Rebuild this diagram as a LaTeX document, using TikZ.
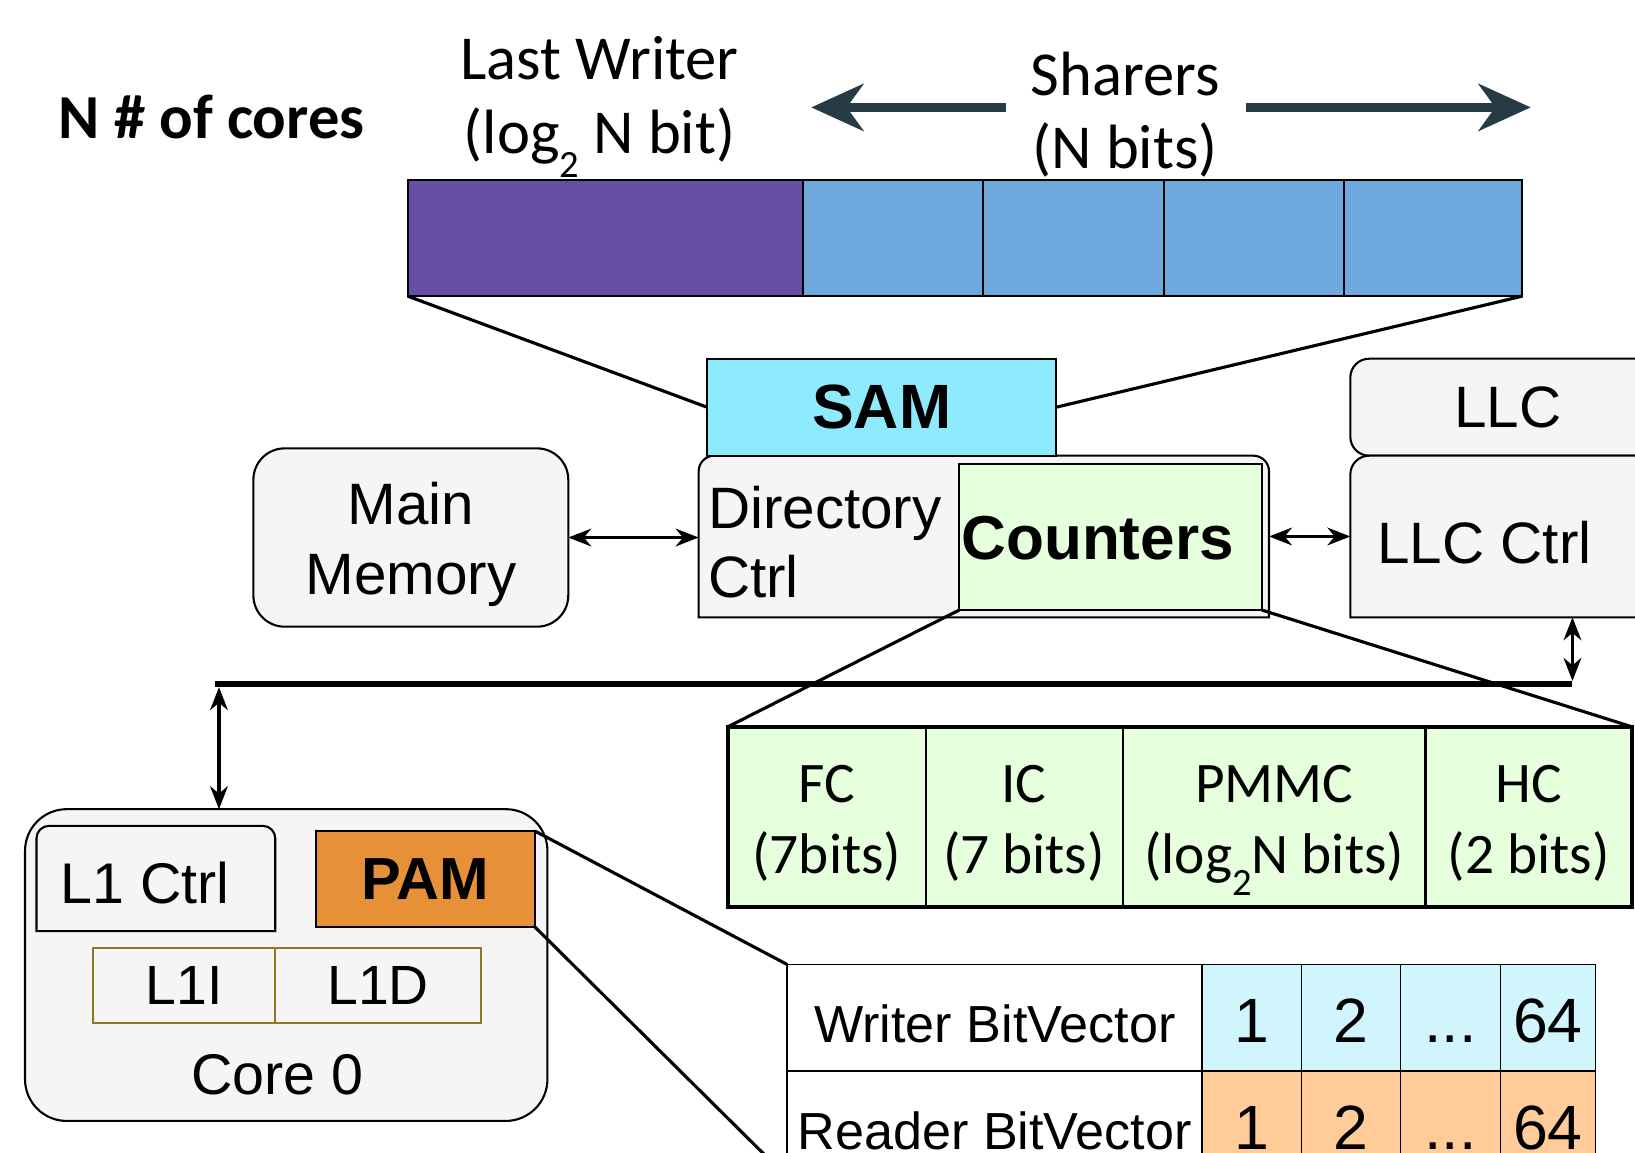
\documentclass[tikz,border=0pt]{standalone}
\usepackage{fontspec}
\setmainfont{Liberation Sans}
\newfontfamily\calfont{Carlito}
\usetikzlibrary{arrows.meta}

\newcommand\fsz[1]{\fontsize{#1}{#1}\selectfont}
\newcommand\subtwo[1]{\raisebox{-#1}{\fsz{37}2}}

\definecolor{lwpurple}{HTML}{674EA7}
\definecolor{shblue}{HTML}{6FA8DC}
\definecolor{samcyan}{HTML}{8DEBFD}
\definecolor{boxgray}{HTML}{F5F5F5}
\definecolor{ctrgreen}{HTML}{E6FFDC}
\definecolor{pamorange}{HTML}{E69138}
\definecolor{wcyan}{HTML}{D0F5FD}
\definecolor{rpeach}{HTML}{FFCC99}
\definecolor{l1olive}{HTML}{947520}
\definecolor{arrowslate}{HTML}{263B46}

\begin{document}
\begin{tikzpicture}[x=1pt,y=-1pt,
  every node/.style={inner sep=0pt, outer sep=0pt},
  cell/.style={draw, line width=2pt, anchor=north west},
  graybox/.style={draw, line width=2pt, fill=boxgray},
  ctcell/.style={draw, line width=2.5pt, fill=ctrgreen, minimum height=173pt, anchor=north west},
  bvcell/.style={draw, line width=1.6pt, anchor=north west, minimum height=102pt, text height=48pt, text depth=0pt},
  caltxt/.style={font=\calfont\fsz{60}, anchor=base},
  cttxt/.style={font=\calfont\fsz{55}, anchor=base},
  link/.style={line width=3pt},
  conn/.style={line width=3pt, {Stealth[length=22pt,width=17pt,inset=7pt]}-{Stealth[length=22pt,width=17pt,inset=7pt]}},
  bigarrow/.style={line width=8.5pt, draw=arrowslate, -{Stealth[length=50pt,width=45pt,inset=16pt]}}
]
\useasboundingbox (0,0) rectangle (1568,1105);
\clip (0,0) rectangle (1568,1105);

% ---------- directory entry layout ----------
\node[font=\calfont\bfseries\fsz{60}, anchor=base] (ncores) at (203,133) {N \# of cores};
\node[caltxt] (lwA) at (575,76) {Last Writer};
\node[caltxt] (lwB) at (575,147) {(log\subtwo{23pt} N bit)};
\node[caltxt] (shA) at (1079,92) {Sharers};
\node[caltxt] (shB) at (1079,162) {(N bits)};

\coordinate (shLs) at (965,103);
\coordinate (shLt) at (778,103);
\coordinate (shRs) at (1195,103);
\coordinate (shRt) at (1468,103);
\draw[bigarrow] (shLs) -- (shLt);
\draw[bigarrow] (shRs) -- (shRt);

\node[cell, fill=lwpurple, minimum width=379pt, minimum height=111pt] (lw) at (391,173) {};
\node[cell, fill=shblue, minimum width=173pt, minimum height=111pt] (s1) at (770,173) {};
\node[cell, fill=shblue, minimum width=173pt, minimum height=111pt] (s2) at (943,173) {};
\node[cell, fill=shblue, minimum width=173pt, minimum height=111pt] (s3) at (1116,173) {};
\node[cell, fill=shblue, minimum width=171pt, minimum height=111pt] (s4) at (1289,173) {};

% ---------- main memory ----------
\node[graybox, rounded corners=30pt, minimum width=302pt, minimum height=171pt, anchor=north west] (mem) at (243,430) {};
\node[font=\fsz{56}, anchor=base] (memA) at (394,503) {Main};
\node[font=\fsz{56}, anchor=base] (memB) at (394,570) {Memory};

% ---------- directory controller ----------
\node[minimum width=547pt, minimum height=155pt, anchor=north west] (dir) at (670,437) {};
\filldraw[graybox] (dir.south west) -- ([yshift=-15pt]dir.north west)
  arc[start angle=180, end angle=90, radius=15pt] -- ([xshift=-15pt]dir.north east)
  arc[start angle=90, end angle=0, radius=15pt] -- (dir.south east) -- cycle;
\node[font=\fsz{56}, anchor=base west] (dirA) at (679,507) {Directory};
\node[font=\fsz{56}, anchor=base west] (dirB) at (679,573) {Ctrl};
\node[cell, fill=ctrgreen, minimum width=290pt, minimum height=140pt] (cnt) at (920,445) {};
\node[font=\bfseries\fsz{59.5}, anchor=base west] (cntA) at (922,537) {Counters};

\node[cell, fill=samcyan, minimum width=335pt, minimum height=93pt, font=\bfseries\fsz{60}] (sam) at (678,344) {SAM};

% ---------- last level cache ----------
\node[graybox, rounded corners=18pt, minimum width=302pt, minimum height=93pt, anchor=north west, font=\fsz{56}] (llc) at (1295,344) {LLC};
\node[minimum width=302pt, minimum height=155pt, anchor=north west] (llcc) at (1295,437) {};
\filldraw[graybox] (llcc.south west) -- ([yshift=-18pt]llcc.north west)
  arc[start angle=180, end angle=90, radius=18pt] -- ([xshift=-18pt]llcc.north east)
  arc[start angle=90, end angle=0, radius=18pt] -- (llcc.south east) -- cycle;
\node[font=\fsz{56}, anchor=base west] (llccA) at (1321,540) {LLC Ctrl};

% ---------- entry expansion lines ----------
\draw[link] (lw.south west) -- (sam.west);
\draw[link] (s4.south east) -- (sam.east);

% ---------- counters table ----------
\node[ctcell, minimum width=190pt] (fc) at (698,697) {};
\node[ctcell, minimum width=189pt] (ic) at (888,697) {};
\node[ctcell, minimum width=290pt] (pmmc) at (1077,697) {};
\node[ctcell, minimum width=198pt] (hc) at (1367,697) {};
\draw[line width=3.5pt] (fc.north west) rectangle (hc.south east);
\node[cttxt] (fcA) at (793,770) {FC};
\node[cttxt] (fcB) at (793,838) {(7bits)};
\node[cttxt] (icA) at (982,770) {IC};
\node[cttxt] (icB) at (982,838) {(7 bits)};
\node[cttxt] (pmA) at (1222,770) {PMMC};
\node[cttxt] (pmB) at (1222,838) {(log\subtwo{21pt}N bits)};
\node[cttxt] (hcA) at (1466,770) {HC};
\node[cttxt] (hcB) at (1466,838) {(2 bits)};

\draw[link] (cnt.south west) -- (fc.north west);
\draw[link] (cnt.south east) -- (hc.north east);

% ---------- interconnect ----------
\coordinate (busL) at (206,656);
\coordinate (busR) at (1508,656);
\coordinate (busTap) at (210,656);
\draw[line width=6pt] (busL) -- (busR);
\draw[conn] (mem.east) -- (mem.east -| dir.west);
\draw[conn] (dir.east) -- (dir.east -| llcc.west);
\draw[conn] (busR |- llcc.south) -- ([yshift=3pt]busR);

% ---------- core 0 ----------
\node[graybox, rounded corners=40pt, minimum width=501pt, minimum height=299pt, anchor=north west] (core) at (24,776) {};
\draw[conn] ([yshift=-3pt]busTap) -- (busTap |- core.north);
\node[minimum width=229pt, minimum height=101pt, anchor=north west] (l1c) at (35,792) {};
\filldraw[graybox] (l1c.south west) -- ([yshift=-12pt]l1c.north west)
  arc[start angle=180, end angle=90, radius=12pt] -- ([xshift=-12pt]l1c.north east)
  arc[start angle=90, end angle=0, radius=12pt] -- (l1c.south east) -- cycle;
\node[font=\fsz{55}, anchor=base west] (l1cA) at (58,866) {L1 Ctrl};
\node[cell, fill=pamorange, minimum width=210pt, minimum height=92pt, font=\bfseries\fsz{57}] (pam) at (303,797) {PAM};
\node[draw=l1olive, line width=1.8pt, anchor=north west, minimum width=175pt, minimum height=72pt, font=\fsz{53}] (l1i) at (89,909) {L1I};
\node[draw=l1olive, line width=1.8pt, anchor=north west, minimum width=197pt, minimum height=72pt, font=\fsz{53}] (l1d) at (264,909) {L1D};
\node[font=\fsz{55}, anchor=base] (coreA) at (266,1050) {Core 0};

% ---------- PAM bit vectors ----------
\node[bvcell, fill=white, minimum width=398pt, font=\fsz{50}] (wlab) at (755,925) {Writer BitVector};
\node[bvcell, fill=wcyan, minimum width=95pt, font=\fsz{60}] (w1) at (1153,925) {1};
\node[bvcell, fill=wcyan, minimum width=95pt, font=\fsz{60}] (w2) at (1248,925) {2};
\node[bvcell, fill=wcyan, minimum width=96pt, font=\fsz{60}] (w3) at (1343,925) {...};
\node[bvcell, fill=wcyan, minimum width=91pt, font=\fsz{60}] (w4) at (1439,925) {64};
\node[bvcell, fill=white, minimum width=398pt, font=\fsz{50}] (rlab) at (755,1027) {Reader BitVector};
\node[bvcell, fill=rpeach, minimum width=95pt, font=\fsz{60}] (r1) at (1153,1027) {1};
\node[bvcell, fill=rpeach, minimum width=95pt, font=\fsz{60}] (r2) at (1248,1027) {2};
\node[bvcell, fill=rpeach, minimum width=96pt, font=\fsz{60}] (r3) at (1343,1027) {...};
\node[bvcell, fill=rpeach, minimum width=91pt, font=\fsz{60}] (r4) at (1439,1027) {64};

\draw[link] (pam.north east) -- (wlab.north west);
\draw[link] (pam.south east) -- (rlab.south west);
\end{tikzpicture}
\end{document}
